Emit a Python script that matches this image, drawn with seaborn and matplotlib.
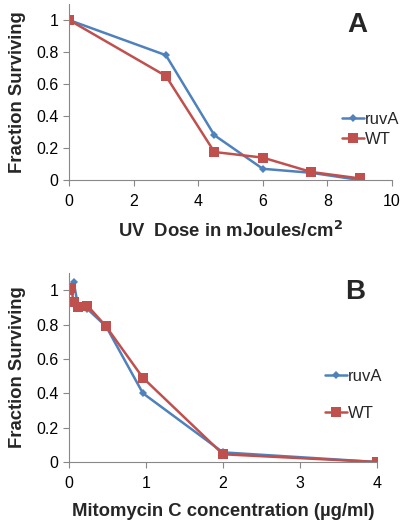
import numpy as np
import pandas as pd
import matplotlib
matplotlib.use("Agg")
import matplotlib.pyplot as plt
import seaborn as sns
from matplotlib.ticker import FuncFormatter
from matplotlib.lines import Line2D

# Panel A data (UV)
uv_dose = [0, 3, 4.5, 6, 7.5, 9]
uv_ruvA = [1.0, 0.78, 0.28, 0.07, 0.045, 0.0]
uv_wt = [1.0, 0.65, 0.175, 0.14, 0.05, 0.01]

# Panel B data (Mitomycin C)
mmc_dose = [0, 0.03, 0.06, 0.12, 0.24, 0.48, 0.96, 2, 4]
mmc_ruvA = [1.0, 1.02, 1.05, 0.90, 0.89, 0.79, 0.40, 0.056, 0.0]
mmc_wt = [1.0, 1.01, 0.93, 0.90, 0.91, 0.79, 0.49, 0.045, 0.0]

series = ["ruvA", "WT"]
colors = {"ruvA": "#4F81BD", "WT": "#C0504D"}
markers = {"ruvA": "D", "WT": "s"}
msizes = {"ruvA": 4.5, "WT": 6.5}

sns.set_theme(style="white")
plt.rcParams['font.family'] = ['Liberation Sans', 'DejaVu Sans']

fig = plt.figure(figsize=(4.06, 5.29), dpi=100)
axA = fig.add_axes([69/406, 1-180/529, (392-69)/406, (180-4)/529])
axB = fig.add_axes([69/406, 1-462/529, (377-69)/406, (462-273)/529])

def long_df(x, a, b):
    return pd.DataFrame({
        "x": list(x) + list(x),
        "y": list(a) + list(b),
        "strain": ["ruvA"] * len(x) + ["WT"] * len(x),
    })

dfA = long_df(uv_dose, uv_ruvA, uv_wt)
dfB = long_df(mmc_dose, mmc_ruvA, mmc_wt)

LABEL_FS = 13.3
for ax, df in [(axA, dfA), (axB, dfB)]:
    sns.lineplot(data=df, x="x", y="y", hue="strain", style="strain",
                 hue_order=series, style_order=series,
                 palette=colors, markers=markers, dashes=False,
                 linewidth=1.8, markersize=6, markeredgewidth=0,
                 estimator=None, sort=False, ax=ax, legend=False)
    for line in ax.get_lines():
        if line.get_marker() == "D":
            line.set_markersize(msizes["ruvA"])
        elif line.get_marker() == "s":
            line.set_markersize(msizes["WT"])
    ax.set_ylim(0, 1.1)
    ax.set_yticks([0, 0.2, 0.4, 0.6, 0.8, 1.0])
    ax.yaxis.set_major_formatter(FuncFormatter(lambda v, p: "%g" % round(v, 2)))
    for side in ["top", "right"]:
        ax.spines[side].set_visible(False)
    for side in ["left", "bottom"]:
        ax.spines[side].set_color("#888888")
        ax.spines[side].set_linewidth(0.8)
    ax.tick_params(axis="both", which="major", direction="out", length=4,
                   width=0.8, color="#888888", labelsize=11.5, labelcolor="black",
                   left=True, bottom=True)
    ax.tick_params(axis="x", pad=6)
    ax.set_ylabel("Fraction Surviving", fontsize=LABEL_FS, fontweight="bold", labelpad=7)

axA.set_xlim(0, 10)
axA.set_xticks([0, 2, 4, 6, 8, 10])
axA.set_xlabel("UV  Dose in mJoules/cm$^\\mathbf{2}$", fontsize=LABEL_FS, fontweight="bold", labelpad=9)

axB.set_xlim(0, 4)
axB.set_xticks([0, 1, 2, 3, 4])
axB.set_xlabel("Mitomycin C concentration (µg/ml)", fontsize=LABEL_FS, fontweight="bold", labelpad=9)

fig.text(357/406, 1-25/529, "A", fontsize=20, fontweight="bold", ha="center", va="center")
fig.text(355/406, 1-292/529, "B", fontsize=20, fontweight="bold", ha="center", va="center")

def handles():
    return [Line2D([0], [0], color=colors[s], marker=markers[s], lw=1.8,
                   markersize=msizes[s], markeredgewidth=0) for s in series]

fig.legend(handles(), series, loc="center left", bbox_to_anchor=(342/406, 1-129/529),
           frameon=False, fontsize=12, handlelength=1.3, handletextpad=0.1,
           labelspacing=0.3, borderpad=0, borderaxespad=0)
fig.legend(handles(), series, loc="center left", bbox_to_anchor=(325/406, 1-395/529),
           frameon=False, fontsize=12, handlelength=1.3, handletextpad=0.1,
           labelspacing=1.3, borderpad=0, borderaxespad=0)

fig.savefig("out.png", dpi=100)
